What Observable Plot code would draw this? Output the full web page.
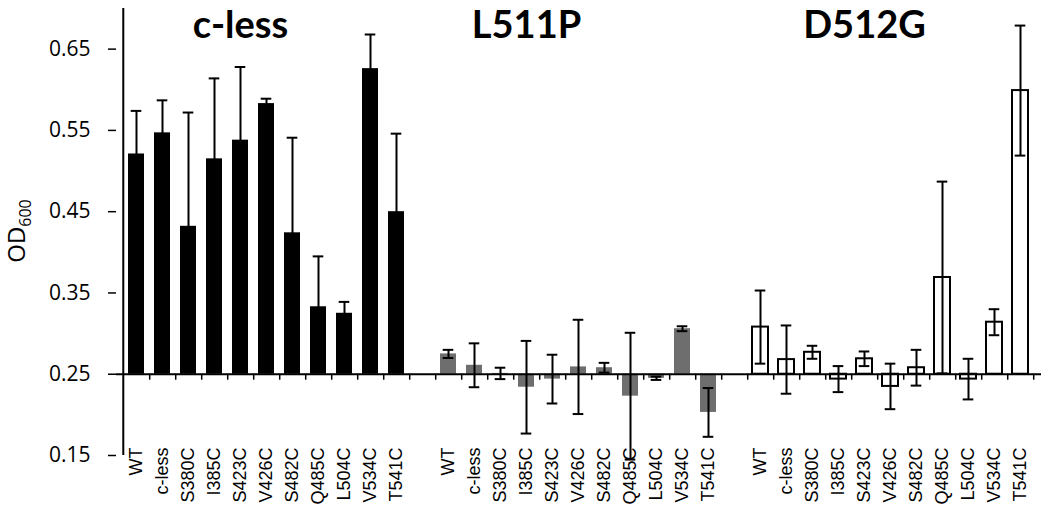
<!DOCTYPE html>
<html><head><meta charset="utf-8">
<script src="https://cdn.jsdelivr.net/npm/d3@7"></script>
<script src="https://cdn.jsdelivr.net/npm/@observablehq/plot@0.6"></script>
<style>body{margin:0;background:#fff;} svg{display:block;}</style>
</head><body><div id="chart"></div>
<script>
const groups = ["c-less", "L511P", "D512G"];
const categories = ["WT","c-less","S380C","I385C","S423C","V426C","S482C","Q485C","L504C","V534C","T541C"];
const clessMean = [0.521, 0.547, 0.432, 0.515, 0.538, 0.583, 0.424, 0.333, 0.325, 0.626, 0.450];
const clessErr  = [0.053, 0.040, 0.140, 0.099, 0.090, 0.006, 0.117, 0.062, 0.014, 0.042, 0.096];
const l511pMean = [0.275, 0.261, 0.251, 0.234, 0.244, 0.259, 0.258, 0.223, 0.245, 0.306, 0.203];
const l511pErr  = [0.005, 0.027, 0.007, 0.057, 0.030, 0.058, 0.006, 0.078, 0.002, 0.003, 0.030];
const d512gMean = [0.308, 0.268, 0.277, 0.244, 0.269, 0.235, 0.258, 0.369, 0.244, 0.314, 0.599];
const d512gErr  = [0.045, 0.042, 0.008, 0.016, 0.009, 0.028, 0.022, 0.118, 0.025, 0.016, 0.080];
const yTicks = [0.15, 0.25, 0.35, 0.45, 0.55, 0.65];
const yDomain = [0.15, 0.70];
const baseline = 0.25;
const groupFill = ["#000000", "#6e6e6e", "#ffffff"];
const titleAnchor = ["S423C", "I385C", "S423C"];

const means = [clessMean, l511pMean, d512gMean];
const errs = [clessErr, l511pErr, d512gErr];

const keys = [];
const rows = [];
groups.forEach((g, gi) => {
  if (gi > 0) keys.push("gap" + gi);
  categories.forEach((c, ci) => {
    const key = g + "|" + c;
    keys.push(key);
    rows.push({key, group: g, gi, cat: c, mean: means[gi][ci], err: errs[gi][ci]});
  });
});
const titles = groups.map((g, gi) => ({key: g + "|" + titleAnchor[gi], text: g}));

const W = 1050, H = 517, mL = 116, mR = 9, mT = 8, mB = 62;
const step = (W - mL - mR) / keys.length;
const pxToVal = (yDomain[1] - yDomain[0]) / (H - mT - mB);

const barMarks = groups.map((g, gi) =>
  Plot.barY(rows.filter(d => d.gi === gi), {
    x: "key", y1: () => baseline, y2: "mean",
    fill: groupFill[gi],
    stroke: gi === 2 ? "#000" : "none",
    strokeWidth: 2
  })
);

const chart = Plot.plot({
  width: W, height: H,
  marginLeft: mL, marginRight: mR, marginTop: mT, marginBottom: mB,
  style: {fontFamily: "Liberation Sans, Arial, sans-serif", background: "#fff", color: "#000"},
  x: {domain: keys, paddingInner: 0.38, paddingOuter: 0.19, axis: null},
  y: {domain: yDomain, axis: null},
  marks: [
    ...barMarks,
    Plot.ruleX(rows, {x: "key", y1: d => d.mean - d.err, y2: d => d.mean + d.err, stroke: "#000", strokeWidth: 2}),
    Plot.tickY(rows, {x: "key", y: d => d.mean + d.err, stroke: "#000", strokeWidth: 2, insetLeft: 2.7, insetRight: 2.7}),
    Plot.tickY(rows, {x: "key", y: d => d.mean - d.err, stroke: "#000", strokeWidth: 2, insetLeft: 2.7, insetRight: 2.7}),
    Plot.ruleY([baseline], {stroke: "#000", strokeWidth: 2}),
    Plot.ruleX([keys[0]], {y1: () => yDomain[0], y2: () => yDomain[1], dx: -step / 2, stroke: "#000", strokeWidth: 2}),
    Plot.ruleX(keys, {y1: () => baseline, y2: () => baseline - 6 * pxToVal, dx: step / 2, stroke: "#000", strokeWidth: 1.5}),
    Plot.axisY(yTicks, {tickSize: 8, tickPadding: 18, tickFormat: d => d.toFixed(2), fontSize: 21, fontFamily: "Open Sans", strokeWidth: 1.5, label: null}),
    Plot.text(rows, {x: "key", y: () => yDomain[0], text: "cat", rotate: -90, textAnchor: "end", dy: -8, fontSize: 18, fontFamily: "Liberation Sans", fill: "#000"}),
    Plot.text(titles, {x: "key", frameAnchor: "top", lineAnchor: "top", dy: 3, text: "text", fontSize: 38, fontWeight: "bold", fontFamily: "Lato", fill: "#000"})
  ]
});

const svg = d3.select(chart);
const lab = svg.append("text")
  .attr("transform", "translate(25,231) rotate(-90)")
  .attr("text-anchor", "middle")
  .attr("font-family", "Open Sans")
  .attr("font-size", 24)
  .attr("fill", "#000");
lab.append("tspan").text("OD");
lab.append("tspan").attr("dy", 6).attr("font-size", 16).text("600");

document.getElementById("chart").appendChild(chart);
</script>
</body></html>
